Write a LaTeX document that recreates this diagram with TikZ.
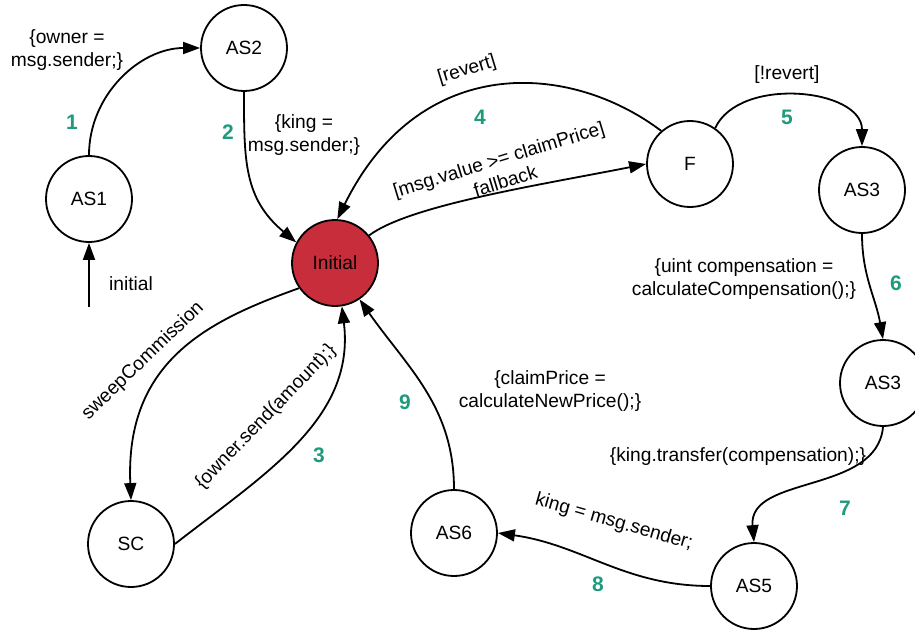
\documentclass[tikz,border=0pt]{standalone}
\usepackage{fontspec}
\setmainfont{Liberation Sans}
\usetikzlibrary{arrows.meta}
\definecolor{stred}{RGB}{200,45,60}
\definecolor{numgreen}{RGB}{30,155,125}
\newcommand\lblfont{\fontsize{19.2}{23}\selectfont}
\newcommand\numfont{\fontsize{21}{24}\selectfont\bfseries}
\begin{document}
\begin{tikzpicture}[x=1pt,y=1pt,
  state/.style={circle,draw,line width=1.8pt,minimum size=86pt,inner sep=0pt,font=\lblfont},
  edge/.style={line width=1.8pt,-{Triangle[length=17pt,width=12pt]}},
  lbl/.style={font=\lblfont,align=center,inner sep=0pt},
  num/.style={font=\numfont,text=numgreen,inner sep=0pt}]
\useasboundingbox (0,0) rectangle (915,-631);

% states
\node[state] (AS1) at (89,-199) {AS1};
\node[state] (AS2) at (244,-48) {AS2};
\node[state,fill=stred] (Init) at (335,-263) {Initial};
\node[state] (F) at (690,-164) {F};
\node[state] (AS3a) at (862,-190) {AS3};
\node[state] (AS3b) at (883,-383) {AS3};
\node[state] (AS5) at (754,-586) {AS5};
\node[state] (AS6) at (454,-533) {AS6};
\node[state] (SC) at (131,-544) {SC};
\coordinate (start) at (89,-307);

% edges
\draw[edge] (start) -- (AS1.south);
\draw[edge] (AS1.north) to[out=90,in=180] (AS2.west);
\draw[edge] (AS2.south) to[out=-90,in=140,looseness=1.1] (Init.152);
\draw[edge] (F.131) .. controls (570,-62) and (420,-52) .. (Init.87);
\draw[edge] (Init.39) .. controls (410,-205) and (540,-185) .. (F.west);
\draw[edge] (F.55) to[out=65,in=90] (AS3a.north);
\draw[edge] (AS3a.south) to[out=-90,in=100] (AS3b.north);
\draw[edge] (AS3b.south) to[out=-95,in=95] (AS5.north);
\draw[edge] (AS5.west) to[out=180,in=-8] (AS6.east);
\draw[edge] (AS6.north) to[out=90,in=-55] (Init.-56);
\draw[edge] (Init.215) .. controls (210,-320) and (125,-360) .. (SC.north);
\draw[edge] (SC.east) to[out=38,in=-83] (Init.-81);

% labels
\node[lbl] (l1) at (67,-50) {\{owner =\\msg.sender;\}};
\node[lbl] (l2) at (304,-135) {\{king =\\msg.sender;\}};
\node[lbl] (lini) at (131,-284) {initial};
\node[lbl,rotate=17] (lrev) at (467,-70) {[revert]};
\node[lbl,rotate=17] (lfb) at (502,-170) {[msg.value >= claimPrice]\\fallback};
\node[lbl] (lnrev) at (787,-75) {[!revert]};
\node[lbl] (lcomp) at (744,-279) {\{uint compensation =\\calculateCompensation();\}};
\node[lbl] (ltr) at (738,-457) {\{king.transfer(compensation);\}};
\node[lbl,rotate=-16] (lking) at (614,-522) {king = msg.sender;};
\node[lbl] (lcp) at (550,-391) {\{claimPrice =\\calculateNewPrice();\}};
\node[lbl,rotate=44] (lsw) at (143,-361) {sweepCommission};
\node[lbl,rotate=46] (lown) at (266,-417) {\{owner.send(amount);\}};

% numbers
\node[num] (n1) at (72,-122) {1};
\node[num] (n2) at (228,-132) {2};
\node[num] (n3) at (319,-455) {3};
\node[num] (n4) at (480,-117) {4};
\node[num] (n5) at (787,-117) {5};
\node[num] (n6) at (896,-283) {6};
\node[num] (n7) at (845,-508) {7};
\node[num] (n8) at (598,-584) {8};
\node[num] (n9) at (405,-402) {9};
\end{tikzpicture}
\end{document}
